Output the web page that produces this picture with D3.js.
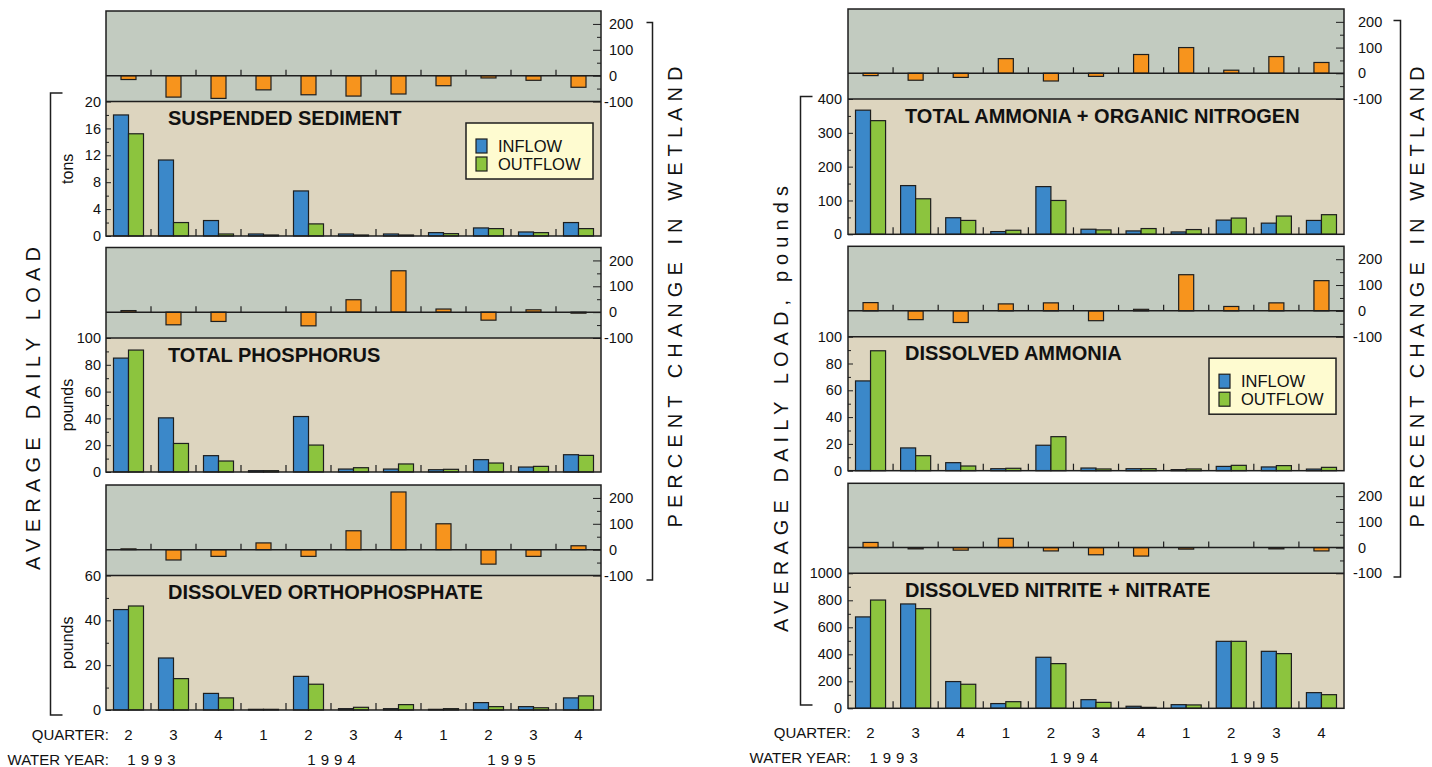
<!DOCTYPE html>
<html><head><meta charset="utf-8">
<script src="https://cdn.jsdelivr.net/npm/d3@7"></script>
<style>
body{margin:0;background:#fff;}
text{font-family:"Liberation Sans",Arial,Helvetica,sans-serif;fill:#111;}
</style>
</head><body>
<svg id="chart" width="1432" height="767"></svg>
<script>
// ---------- DATA ----------
const quarters = ["2","3","4","1","2","3","4","1","2","3","4"];
const quarterYears = ["1993","1993","1993","1994","1994","1994","1994","1995","1995","1995","1995"];
const waterYears = ["1993","1994","1995"];
const seriesNames = ["INFLOW","OUTFLOW"];

const ssIn  = [18, 11.3, 2.3, 0.3, 6.7, 0.3, 0.3, 0.5, 1.2, 0.6, 2.0];
const ssOut = [15.2, 2.0, 0.3, 0.15, 1.8, 0.15, 0.15, 0.35, 1.1, 0.5, 1.1];
const ssPct = [-15, -83, -88, -55, -74, -79, -71, -39, -9, -18, -45];

const tpIn  = [85, 40.4, 12.2, 1, 41.4, 2.2, 2.2, 1.7, 9.2, 3.7, 12.9];
const tpOut = [91, 21.3, 8.2, 1, 20.1, 3.2, 6, 2, 6.7, 4.2, 12.4];
const tpPct = [6, -49, -36, 0, -53, 48, 160, 12, -31, 9, -4];

const opIn  = [44.8, 23.2, 7.4, 0.3, 15.0, 0.6, 0.6, 0.3, 3.3, 1.5, 5.4];
const opOut = [46.4, 14, 5.4, 0.3, 11.5, 1.2, 2.4, 0.6, 1.5, 1.0, 6.3];
const opPct = [3, -40, -26, 26, -26, 73, 223, 100, -56, -26, 15];

const tknIn  = [367, 144, 49, 8, 141, 15, 10, 7, 42, 33, 41];
const tknOut = [336, 105, 41, 12, 100, 13, 17, 14, 48, 54, 58];
const tknPct = [-9, -27, -16, 57, -30, -12, 73, 100, 12, 65, 42];

const nh3In  = [67, 17, 6, 1.5, 19, 2, 1.5, 0.8, 3.2, 2.8, 1.2];
const nh3Out = [89.5, 11.2, 3.5, 1.8, 25.4, 1.3, 1.5, 1.3, 4, 3.8, 2.5];
const nh3Pct = [32, -34, -45, 27, 31, -38, 6, 140, 17, 31, 117];

const no3In  = [677, 773, 198, 35, 378, 64, 15, 27, 496, 422, 116];
const no3Out = [802, 738, 178, 49, 331, 44, 7, 25, 496, 405, 101];
const no3Pct = [20, -5, -10, 36, -13, -28, -33, -6, 0, -5, -13];

const pctTicks = [-100, 0, 100, 200];
const pctMinor = [-50, 50, 150];

// ---------- LAYOUT ----------
const COLORS = {pctBg:"#c2cbc0", loadBg:"#ddd5bf", inflow:"#3b88c9", outflow:"#8cc43e", pct:"#f7941d", legendBg:"#fefbd0", ink:"#1e1e1e"};
const cols = [
  {x0:106, x1:601, titleX:168, loadPad:5, pctPad:8, rows:[[11,101.5,236],[247.5,338,472],[485,575.5,710]],
   leftLab:{text:"AVERAGE DAILY LOAD", x:33, y:408.5, len:323}, rightLab:{x:675, y:297, len:461},
   lBr:{x:50.5, y0:93, y1:715, w:12}, rBr:{x:652.5, y0:22.5, y1:580, w:6}, qY:740, yY:765},
  {x0:848, x1:1344, titleX:905, loadPad:6, pctPad:14, rows:[[9,99,234.3],[246.3,336.7,470.7],[483.3,573.3,708.3]],
   leftLab:{text:"AVERAGE DAILY LOAD, pounds", x:781, y:409, len:446}, rightLab:{x:1417, y:297, len:461},
   lBr:{x:800.5, y0:96.5, y1:705, w:12}, rBr:{x:1400.5, y0:20.5, y1:577, w:7}, qY:738, yY:763}
];

const panels = [
  {col:0,row:0,title:"SUSPENDED SEDIMENT",unit:"tons",max:20,major:4,minor:2,inflow:ssIn,outflow:ssOut,pct:ssPct,legend:true},
  {col:0,row:1,title:"TOTAL PHOSPHORUS",unit:"pounds",max:100,major:20,minor:10,inflow:tpIn,outflow:tpOut,pct:tpPct},
  {col:0,row:2,title:"DISSOLVED ORTHOPHOSPHATE",unit:"pounds",max:60,major:20,minor:10,inflow:opIn,outflow:opOut,pct:opPct},
  {col:1,row:0,title:"TOTAL AMMONIA + ORGANIC NITROGEN",unit:null,max:400,major:100,minor:50,inflow:tknIn,outflow:tknOut,pct:tknPct},
  {col:1,row:1,title:"DISSOLVED AMMONIA",unit:null,max:100,major:20,minor:10,inflow:nh3In,outflow:nh3Out,pct:nh3Pct,legend:true},
  {col:1,row:2,title:"DISSOLVED NITRITE + NITRATE",unit:null,max:1000,major:200,minor:100,inflow:no3In,outflow:no3Out,pct:no3Pct}
];

const svg = d3.select("#chart");
const idx = d3.range(quarters.length);

panels.forEach(p => {
  const c = cols[p.col];
  const [top, mid, bot] = c.rows[p.row];
  const g = svg.append("g");
  const x = d3.scaleBand().domain(idx).range([c.x0, c.x1]).paddingInner(0).paddingOuter(0);
  const xs = d3.scaleBand().domain(seriesNames).range([0, x.bandwidth()]).paddingInner(0).paddingOuter(0.5);
  const yP = d3.scaleLinear().domain([-100, 250]).range([mid, top]);
  const yL = d3.scaleLinear().domain([0, p.max]).range([bot, mid]);

  g.append("rect").attr("x", c.x0).attr("y", top).attr("width", c.x1 - c.x0).attr("height", mid - top).attr("fill", COLORS.pctBg);
  g.append("rect").attr("x", c.x0).attr("y", mid).attr("width", c.x1 - c.x0).attr("height", bot - mid).attr("fill", COLORS.loadBg);

  // percent bars
  const pw = x.bandwidth() / 3;
  g.selectAll(".pb").data(p.pct).join("rect")
    .attr("x", (d,i) => x(i) + pw).attr("width", pw)
    .attr("y", d => Math.min(yP(d), yP(0))).attr("height", d => Math.abs(yP(d) - yP(0)))
    .attr("fill", COLORS.pct).attr("stroke", COLORS.ink).attr("stroke-width", 1.2);

  // zero line
  g.append("line").attr("x1", c.x0).attr("x2", c.x1).attr("y1", yP(0)).attr("y2", yP(0)).attr("stroke", COLORS.ink).attr("stroke-width", 1.5);

  // load bars
  const series = [{k:"INFLOW", v:p.inflow, col:COLORS.inflow}, {k:"OUTFLOW", v:p.outflow, col:COLORS.outflow}];
  series.forEach(s => {
    g.selectAll(null).data(s.v).join("rect")
      .attr("x", (d,i) => x(i) + xs(s.k)).attr("width", xs.bandwidth())
      .attr("y", d => yL(d)).attr("height", d => yL(0) - yL(d))
      .attr("fill", s.col).attr("stroke", COLORS.ink).attr("stroke-width", 1.2);
  });

  // band separator ticks
  idx.slice(1).forEach(i => {
    g.append("line").attr("x1", x(i)).attr("x2", x(i)).attr("y1", yP(0)).attr("y2", yP(0) - 6).attr("stroke", COLORS.ink).attr("stroke-width", 1.2);
    g.append("line").attr("x1", x(i)).attr("x2", x(i)).attr("y1", bot).attr("y2", bot - 7).attr("stroke", COLORS.ink).attr("stroke-width", 1.2);
  });

  // load axis (left, inward ticks)
  const majors = d3.range(0, p.max + 1e-9, p.major);
  const minors = d3.range(0, p.max, p.minor).filter(v => majors.indexOf(v) < 0);
  const la = g.append("g").attr("transform", `translate(${c.x0},0)`)
    .call(d3.axisLeft(yL).tickValues(majors).tickSize(-5).tickPadding(c.loadPad).tickFormat(d3.format("d")));
  la.select(".domain").remove();
  la.selectAll("text").attr("font-size", "14.5px").attr("font-family", null);
  la.selectAll("line").attr("stroke", COLORS.ink);
  const lm = g.append("g").attr("transform", `translate(${c.x0},0)`)
    .call(d3.axisLeft(yL).tickValues(minors).tickSize(-3).tickFormat(""));
  lm.select(".domain").remove();
  lm.selectAll("line").attr("stroke", COLORS.ink);

  // percent axis (right, inward ticks)
  const pa = g.append("g").attr("transform", `translate(${c.x1},0)`)
    .call(d3.axisRight(yP).tickValues(pctTicks).tickSize(-8).tickPadding(c.pctPad).tickFormat(d => d < 0 ? "-" + Math.abs(d) : d));
  pa.select(".domain").remove();
  pa.selectAll("text").attr("font-size", "14.5px").attr("font-family", null)
    .attr("dx", d => d < 0 ? -5 : 0);
  pa.selectAll("line").attr("stroke", COLORS.ink);
  const pm = g.append("g").attr("transform", `translate(${c.x1},0)`)
    .call(d3.axisRight(yP).tickValues(pctMinor).tickSize(-4).tickFormat(""));
  pm.select(".domain").remove();
  pm.selectAll("line").attr("stroke", COLORS.ink);

  // frame
  g.append("rect").attr("x", c.x0).attr("y", top).attr("width", c.x1 - c.x0).attr("height", bot - top)
    .attr("fill", "none").attr("stroke", COLORS.ink).attr("stroke-width", 1.5);
  g.append("line").attr("x1", c.x0).attr("x2", c.x1).attr("y1", mid).attr("y2", mid).attr("stroke", COLORS.ink).attr("stroke-width", 1.5);

  // title
  g.append("text").attr("x", c.titleX).attr("y", mid + 23.5).attr("font-size", "20px").attr("font-weight", "bold").text(p.title);

  // unit label
  if (p.unit) {
    g.append("text").attr("transform", `translate(67,${(mid + bot) / 2}) rotate(-90)`)
      .attr("text-anchor", "middle").attr("dy", "0.36em").attr("font-size", "16px").text(p.unit);
  }

  // legend
  if (p.legend) {
    const lx = c.x1 - 135, ly = mid + 21.5;
    const lg = g.append("g").attr("transform", `translate(${lx},${ly})`);
    lg.append("rect").attr("width", 127).attr("height", 56).attr("fill", COLORS.legendBg).attr("stroke", COLORS.ink).attr("stroke-width", 1.5);
    series.forEach((s, i) => {
      lg.append("rect").attr("x", 10).attr("y", 16 + i * 18).attr("width", 11).attr("height", 14)
        .attr("fill", s.col).attr("stroke", COLORS.ink).attr("stroke-width", 1.2);
      lg.append("text").attr("x", 32).attr("y", 28.5 + i * 18.5).attr("font-size", "16.5px").text(s.k);
    });
  }
});

// bottom labels, rotated labels, brackets
cols.forEach(c => {
  const x = d3.scaleBand().domain(idx).range([c.x0, c.x1]);
  svg.append("text").attr("x", c.x0 + 3).attr("y", c.qY).attr("text-anchor", "end").attr("font-size", "15px").text("QUARTER:");
  svg.append("text").attr("x", c.x0 + 3).attr("y", c.yY).attr("text-anchor", "end").attr("font-size", "15px").text("WATER YEAR:");
  svg.selectAll(null).data(quarters).join("text")
    .attr("x", (d,i) => x(i) + x.bandwidth() / 2).attr("y", c.qY).attr("text-anchor", "middle").attr("font-size", "15px").text(d => d);
  waterYears.forEach(yr => {
    const last = quarterYears.lastIndexOf(yr);
    const cx = x(last) + x.bandwidth() / 2 - 1.5 * x.step() + 3;
    svg.append("text").attr("x", cx).attr("y", c.yY).attr("text-anchor", "middle").attr("font-size", "15px")
      .attr("letter-spacing", "5px").text(yr);
  });

  const L = c.leftLab;
  svg.append("text").attr("transform", `translate(${L.x},${L.y}) rotate(-90)`).attr("text-anchor", "middle")
    .attr("dy", "0.36em").attr("font-size", "20px").attr("textLength", L.len).attr("lengthAdjust", "spacing").text(L.text);
  const R = c.rightLab;
  svg.append("text").attr("transform", `translate(${R.x},${R.y}) rotate(-90)`).attr("text-anchor", "middle")
    .attr("dy", "0.36em").attr("font-size", "20px").attr("textLength", R.len).attr("lengthAdjust", "spacing").text("PERCENT CHANGE IN WETLAND");

  const lb = c.lBr, rb = c.rBr;
  svg.append("path").attr("d", `M${lb.x + lb.w},${lb.y0}H${lb.x}V${lb.y1}H${lb.x + lb.w}`).attr("fill", "none").attr("stroke", COLORS.ink).attr("stroke-width", 1.5);
  svg.append("path").attr("d", `M${rb.x - rb.w},${rb.y0}H${rb.x}V${rb.y1}H${rb.x - rb.w}`).attr("fill", "none").attr("stroke", COLORS.ink).attr("stroke-width", 1.5);
});
</script>
</body></html>
